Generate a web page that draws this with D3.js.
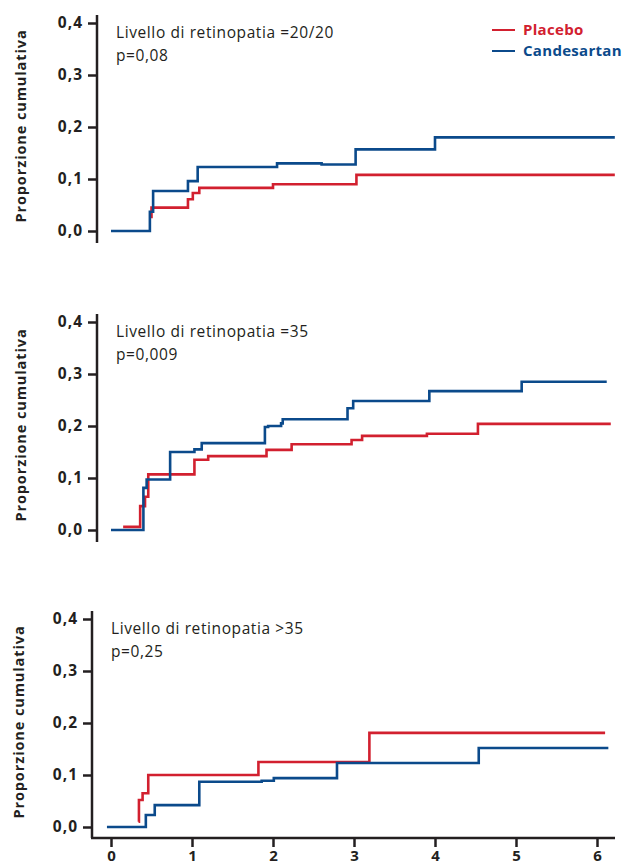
<!DOCTYPE html>
<html>
<head>
<meta charset="utf-8">
<script src="https://cdn.jsdelivr.net/npm/d3@7"></script>
<style>
  body { margin: 0; background: #fff; }
  svg { display: block; font-family: "Open Sans", "Noto Sans", sans-serif; }
</style>
</head>
<body>
<svg id="chart" width="622" height="867"></svg>
<script>
// step points: [anni, proporzione cumulativa]
var panelTitles = ["Livello di retinopatia =20/20", "Livello di retinopatia =35", "Livello di retinopatia >35"];
var pValues = ["p=0,08", "p=0,009", "p=0,25"];
var seriesNames = ["Placebo", "Candesartan"];
var yTicks = [0, 0.1, 0.2, 0.3, 0.4];
var xTicks = [0, 1, 2, 3, 4, 5, 6];

var placebo1 = [[0.47, 0.027], [0.5, 0.045], [0.95, 0.061], [1.01, 0.073], [1.09, 0.083],
  [2.0, 0.09], [3.03, 0.108], [6.22, 0.108]];
var candesartan1 = [[0, 0], [0.48, 0.037], [0.52, 0.077], [0.95, 0.096], [1.07, 0.123],
  [2.05, 0.13], [2.6, 0.128], [3.02, 0.157], [4.0, 0.18], [6.22, 0.18]];

var placebo2 = [[0.15, 0.006], [0.36, 0.046], [0.42, 0.064], [0.46, 0.107], [1.03, 0.135],
  [1.2, 0.142], [1.92, 0.154], [2.23, 0.165], [2.97, 0.173], [3.1, 0.181], [3.9, 0.185],
  [4.53, 0.204], [6.17, 0.204]];
var candesartan2 = [[0, 0], [0.4, 0.081], [0.44, 0.097], [0.73, 0.15], [1.03, 0.155],
  [1.12, 0.167], [1.9, 0.198], [1.94, 0.2], [2.1, 0.205], [2.12, 0.213], [2.92, 0.234],
  [2.99, 0.248], [3.93, 0.267], [5.07, 0.285], [6.12, 0.285]];

var placebo3 = [[0.34, 0.01], [0.345, 0.052], [0.39, 0.065], [0.46, 0.1], [1.82, 0.125],
  [3.19, 0.181], [6.1, 0.181]];
var candesartan3 = [[-0.05, 0], [0.43, 0.023], [0.54, 0.042], [1.09, 0.087], [1.86, 0.089],
  [2.01, 0.094], [2.79, 0.123], [4.54, 0.152], [6.14, 0.152]];

var panelData = [[placebo1, candesartan1], [placebo2, candesartan2], [placebo3, candesartan3]];
var colors = ["#d2202f", "#0b4a8b"];
var ink = "#231f20";

var svg = d3.select("#chart");
var x = d3.scaleLinear().domain([0, 6]).range([111, 597]);
var fmt = function(d) { return d3.format(".1f")(d).replace(".", ","); };

var panels = [
  { y0: 231, axisX: 97, labelX: 21, textX: 116 },
  { y0: 530, axisX: 97, labelX: 21, textX: 116 },
  { y0: 827, axisX: 92, labelX: 19, textX: 111 }
];

panels.forEach(function(p, i) {
  var y = d3.scaleLinear().domain([0, 0.4]).range([p.y0, p.y0 - 208]);
  var g = svg.append("g");

  var yAxis = g.append("g")
    .attr("transform", "translate(" + p.axisX + ",0)")
    .call(d3.axisLeft(y).tickValues(yTicks).tickFormat(fmt).tickSize(9).tickPadding(5));
  yAxis.select(".domain").remove();
  yAxis.selectAll(".tick line").attr("stroke", ink).attr("stroke-width", 2.5);
  yAxis.selectAll(".tick text").attr("fill", ink).attr("font-size", 15.5)
    .attr("font-weight", "bold").attr("font-family", "Open Sans")
    .attr("letter-spacing", "1px");

  var bottom = i === 2 ? p.y0 + 11 : p.y0 + 12;
  g.append("line")
    .attr("x1", p.axisX).attr("x2", p.axisX)
    .attr("y1", y(0.4) - 8).attr("y2", bottom)
    .attr("stroke", ink).attr("stroke-width", 2.5);

  if (i === 2) {
    var xAxis = g.append("g")
      .attr("transform", "translate(0," + bottom + ")")
      .call(d3.axisBottom(x).tickValues(xTicks).tickFormat(d3.format("d")).tickSize(9).tickPadding(3));
    xAxis.select(".domain").remove();
    xAxis.selectAll(".tick line").attr("stroke", ink).attr("stroke-width", 2.5);
    xAxis.selectAll(".tick text").attr("fill", ink).attr("font-size", 15)
      .attr("font-weight", "bold").attr("font-family", "Open Sans");
    g.append("line")
      .attr("x1", p.axisX - 1).attr("x2", 615)
      .attr("y1", bottom).attr("y2", bottom)
      .attr("stroke", ink).attr("stroke-width", 2.5);
  }

  g.append("text")
    .attr("transform", "translate(" + p.labelX + "," + (y(0.2) - 1) + ") rotate(-90)")
    .attr("text-anchor", "middle").attr("dy", "0.35em")
    .attr("font-size", 14.5).attr("font-weight", "bold").attr("fill", ink)
    .attr("letter-spacing", "0.9px")
    .text("Proporzione cumulativa");

  g.append("text").attr("x", p.textX).attr("y", y(0.4) + 15)
    .attr("font-size", 15.5).attr("fill", ink).attr("letter-spacing", "0.6px")
    .text(panelTitles[i]);
  g.append("text").attr("x", p.textX).attr("y", y(0.4) + 38)
    .attr("font-size", 15.5).attr("fill", ink).attr("letter-spacing", "0.6px")
    .text(pValues[i]);

  var line = d3.line()
    .x(function(d) { return x(d[0]); })
    .y(function(d) { return y(d[1]); })
    .curve(d3.curveStepAfter);

  panelData[i].forEach(function(s, k) {
    g.append("path").datum(s)
      .attr("d", line)
      .attr("fill", "none")
      .attr("stroke", colors[k])
      .attr("stroke-width", 2.6);
  });
});

// legend
var legend = svg.append("g").attr("transform", "translate(492,30)");
seriesNames.forEach(function(name, k) {
  var row = legend.append("g").attr("transform", "translate(0," + (k * 21) + ")");
  row.append("line").attr("x1", 0).attr("x2", 23).attr("y1", 0).attr("y2", 0)
    .attr("stroke", colors[k]).attr("stroke-width", 2);
  row.append("text").attr("x", 31).attr("dy", "0.35em")
    .attr("font-size", 15).attr("font-weight", "bold").attr("fill", colors[k])
    .attr("letter-spacing", "0.3px")
    .text(name);
});
</script>
</body>
</html>
